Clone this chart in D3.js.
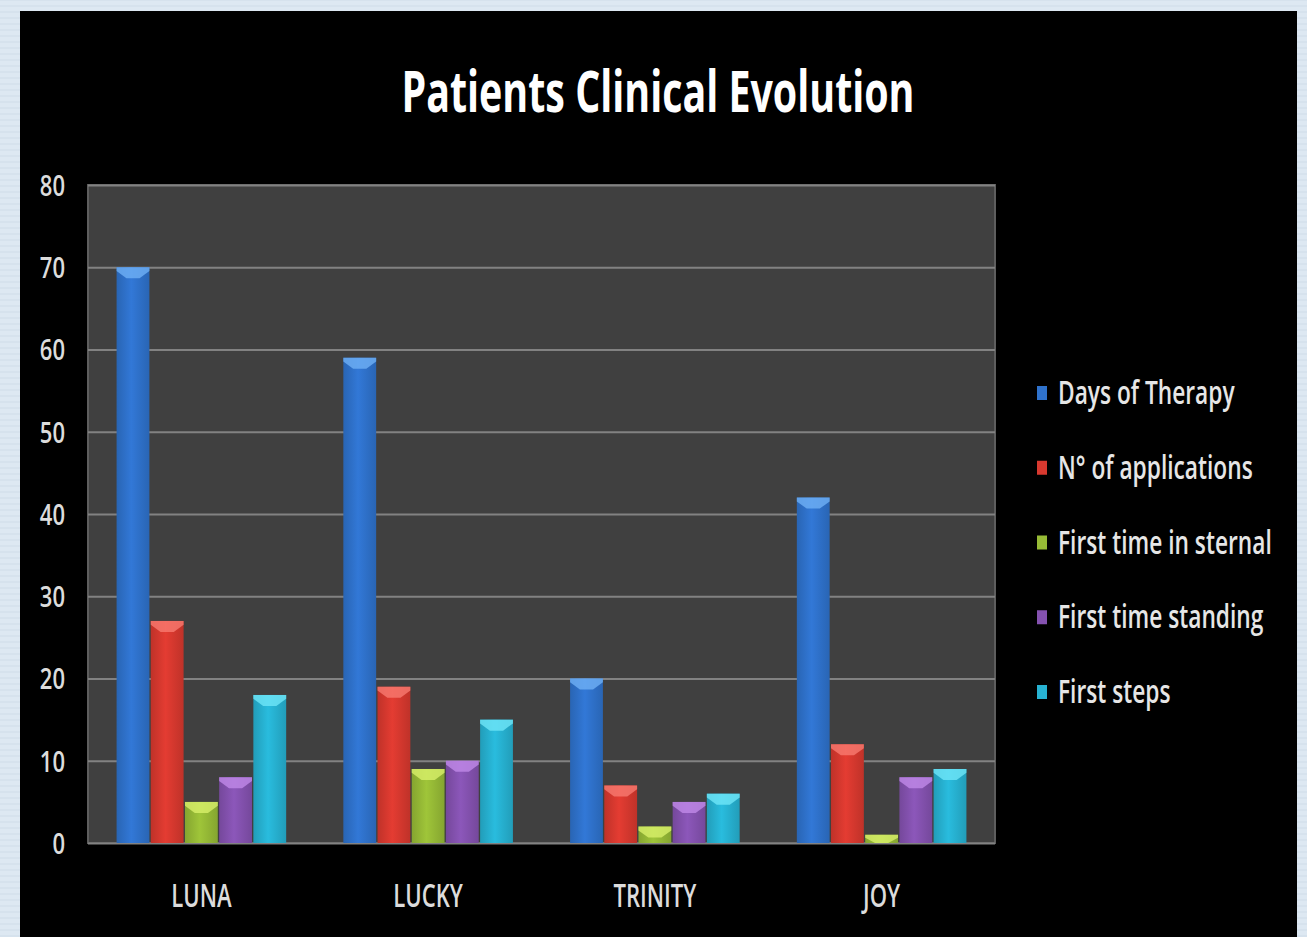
<!DOCTYPE html>
<html><head><meta charset="utf-8">
<script src="https://cdn.jsdelivr.net/npm/d3@7"></script>
<style>html,body{margin:0;padding:0;background:#dfe9f2;}svg{display:block;}</style>
</head><body>
<script>
const categories = ["LUNA", "LUCKY", "TRINITY", "JOY"];
const seriesNames = ["Days of Therapy", "N° of applications", "First time in sternal", "First time standing", "First steps"];
const daysOfTherapy = [70, 59, 20, 42];
const nApplications = [27, 19, 7, 12];
const firstSternal = [5, 9, 2, 1];
const firstStanding = [8, 10, 5, 8];
const firstSteps = [18, 15, 6, 9];
const yTicks = [0, 10, 20, 30, 40, 50, 60, 70, 80];
const colors = ["#2f72cc", "#d8392f", "#97bb36", "#8552b0", "#27b2d2"];
const lightColors = ["#6fb0f5", "#f77b70", "#d8f06a", "#c08ae8", "#6fe6f8"];

const seriesValues = [daysOfTherapy, nApplications, firstSternal, firstStanding, firstSteps];

const W = 1307, H = 937;
const svg = d3.select("body").append("svg").attr("width", W).attr("height", H);

// light textured surround
svg.append("rect").attr("width", W).attr("height", H).attr("fill", "#dde8f2");
for (let i = 0; i < H; i += 6) {
  svg.append("line").attr("x1", 0).attr("x2", W).attr("y1", i).attr("y2", i)
    .attr("stroke", "#cfdde9").attr("stroke-width", 1.5).attr("opacity", 0.6);
}
// black panel
svg.append("rect").attr("x", 20).attr("y", 11).attr("width", 1277).attr("height", 926).attr("fill", "#000");

const plot = {left: 88, right: 995, top: 185, bottom: 843};

const x0 = d3.scaleBand().domain(categories).range([plot.left, plot.right]).paddingInner(0.24).paddingOuter(0.12);
const x1 = d3.scaleBand().domain(seriesNames).range([0, x0.bandwidth()]).padding(0.04);
const y = d3.scaleLinear().domain([0, 80]).range([plot.bottom, plot.top]);

// plot background
svg.append("rect").attr("x", plot.left).attr("y", plot.top).attr("width", plot.right - plot.left)
  .attr("height", plot.bottom - plot.top).attr("fill", "#404040").attr("stroke", "#5e5e5e").attr("stroke-width", 2);

// gridlines via axis
const grid = svg.append("g").attr("transform", `translate(${plot.left},0)`)
  .call(d3.axisLeft(y).tickValues(yTicks).tickSize(-(plot.right - plot.left)).tickFormat(""));
grid.select(".domain").remove();
grid.selectAll("line").attr("stroke", "#828282").attr("stroke-width", 2.2);

// y axis labels
const yAxis = svg.append("g").attr("transform", `translate(${plot.left},0)`)
  .call(d3.axisLeft(y).tickValues(yTicks).tickSize(0).tickPadding(23));
yAxis.select(".domain").remove();
yAxis.selectAll("text").attr("fill", "#dcdcdc").attr("font-family", "'Open Sans', sans-serif")
  .attr("font-weight", 600).attr("font-size", 29).attr("dy", "0.36em").attr("text-anchor", "end");

// bars
const data = [];
categories.forEach((c, ci) => {
  seriesNames.forEach((s, si) => {
    data.push({cat: c, series: s, si: si, value: seriesValues[si][ci]});
  });
});

const defs = svg.append("defs");
colors.forEach((c, i) => {
  const g = defs.append("linearGradient").attr("id", "g" + i).attr("x1", "0").attr("x2", "1").attr("y1", "0").attr("y2", "0");
  g.append("stop").attr("offset", "0%").attr("stop-color", d3.color(c).darker(0.35));
  g.append("stop").attr("offset", "45%").attr("stop-color", d3.color(c).brighter(0.15));
  g.append("stop").attr("offset", "100%").attr("stop-color", d3.color(c).darker(0.35));
});

const bars = svg.append("g").selectAll("g").data(data).join("g")
  .attr("transform", d => `translate(${x0(d.cat) + x1(d.series)},0)`);
bars.append("rect")
  .attr("x", 0).attr("width", x1.bandwidth())
  .attr("y", d => y(d.value)).attr("height", d => y(0) - y(d.value))
  .attr("fill", d => `url(#g${d.si})`);
bars.append("path")
  .attr("d", d => {
    const w = x1.bandwidth(), t = y(d.value);
    const h = Math.min(11, (y(0) - t));
    return `M0,${t} L${w},${t} L${w},${t + h * 0.35} L${w * 0.7},${t + h} L${w * 0.3},${t + h} L0,${t + h * 0.35} Z`;
  })
  .attr("fill", d => lightColors[d.si]).attr("opacity", 0.8);

// x axis labels
const xAxis = svg.append("g").attr("transform", `translate(0,${plot.bottom})`)
  .call(d3.axisBottom(x0).tickSize(0).tickPadding(52));
xAxis.select(".domain").remove();
xAxis.selectAll("text").attr("fill", "#dcdcdc").attr("font-family", "'Open Sans', sans-serif")
  .attr("font-weight", 600).attr("font-size", 33).attr("dy", "0.36em");

// title
svg.append("text").attr("x", 658).attr("y", 112).attr("text-anchor", "middle")
  .attr("fill", "#ffffff").attr("font-family", "'Open Sans', sans-serif").attr("font-weight", "bold")
  .attr("font-size", 58).attr("textLength", 513).attr("lengthAdjust", "spacingAndGlyphs")
  .text("Patients Clinical Evolution");

// legend
const legendY = d3.scalePoint().domain(seriesNames).range([393, 692]);
const lg = svg.append("g").selectAll("g").data(seriesNames).join("g")
  .attr("transform", d => `translate(1037,${legendY(d)})`);
lg.append("rect").attr("x", 0).attr("y", -7).attr("width", 10).attr("height", 14)
  .attr("fill", (d, i) => colors[i]);
lg.append("text").attr("x", 21).attr("y", 0).attr("dy", "0.35em")
  .attr("fill", "#e6e6e6").attr("font-family", "'Open Sans', sans-serif").attr("font-weight", 600).attr("font-size", 32)
  .text(d => d);

// condense texts horizontally (narrow typeface look) with a transform
function condense(sel, factor) {
  sel.each(function () {
    const t = d3.select(this);
    const xx = +t.attr("x") || 0, yy = +t.attr("y") || 0;
    t.attr("x", 0).attr("y", 0).attr("transform", `translate(${xx},${yy}) scale(${factor},1)`);
  });
}
condense(yAxis.selectAll("text"), 0.76);
condense(xAxis.selectAll("text"), 0.67);
condense(lg.selectAll("text"), 0.71);
</script>
</body></html>
